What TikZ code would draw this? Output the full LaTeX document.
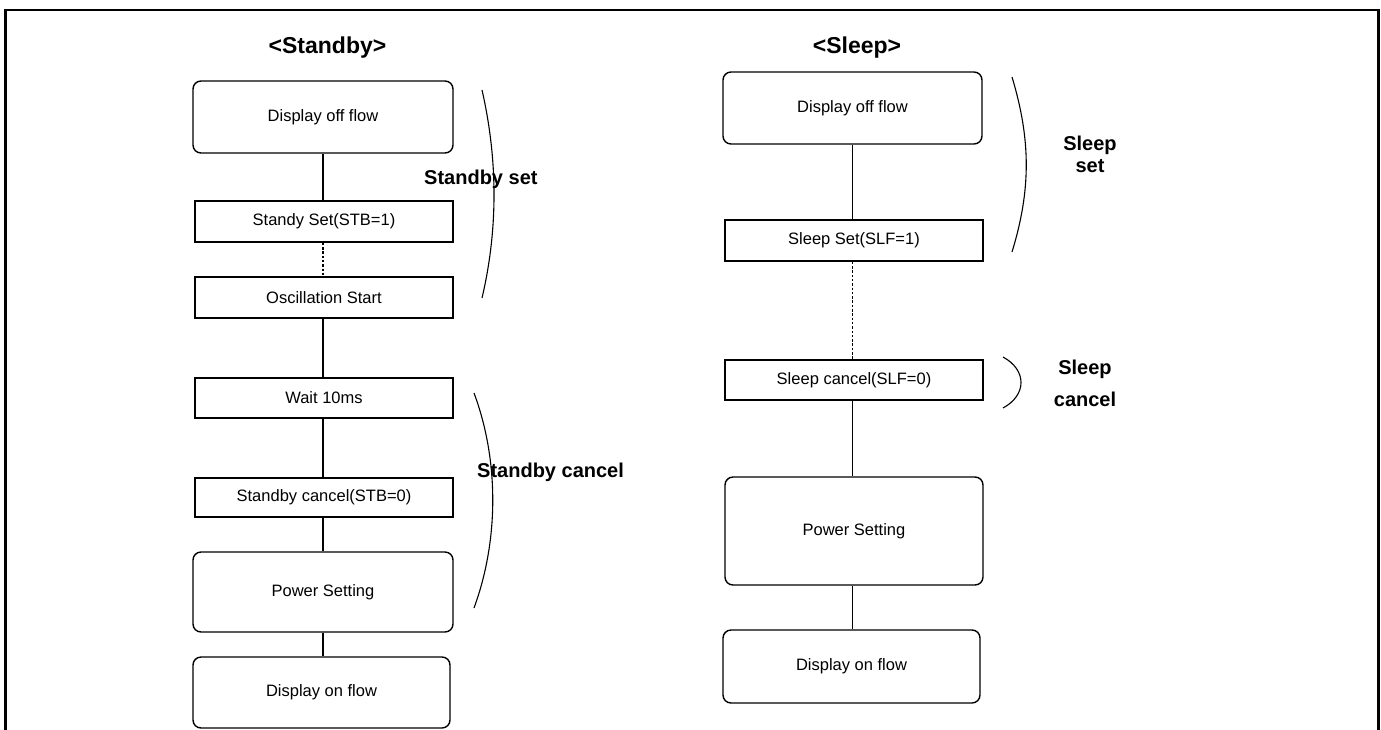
\documentclass[tikz,border=0pt]{standalone}
\usepackage{fontspec}
\setmainfont{Liberation Sans}
\begin{document}
\begin{tikzpicture}[x=1pt,y=-1pt,
  box/.style={draw, line width=1.4pt, minimum width=258pt, inner sep=0pt, font=\fontsize{16.5}{19}\selectfont},
  rbox/.style={box, rounded corners=8pt},
  link/.style={line width=1.9pt},
  dotlink/.style={line width=1.9pt, dash pattern=on 2.5pt off 1.8pt},
  brace/.style={line width=1.1pt},
  lbl/.style={font=\fontsize{20}{22}\selectfont\bfseries, inner sep=0pt},
  ttl/.style={font=\fontsize{23}{26}\selectfont\bfseries, inner sep=0pt, anchor=base}]
\useasboundingbox (0,0) rectangle (1381,729);
% frame
\draw[line width=2.7pt] (5.3,735) -- (5.3,10) -- (1378.7,10) -- (1378.7,735);
% titles
\node[ttl] (T1) at (327.5,53) {<Standby>};
\node[ttl] (T2) at (857,53) {<Sleep>};
% left column
\node[rbox, minimum width=260pt, minimum height=72pt] (L1) at (323,117) {Display off flow};
\node[box, minimum height=41pt] (L2) at (324,221.5) {Standy Set(STB=1)};
\node[box, minimum height=41pt] (L3) at (324,297.5) {Oscillation Start};
\node[box, minimum height=40pt] (L4) at (324,398) {Wait 10ms};
\node[box, minimum height=39pt] (L5) at (324,497.5) {Standby cancel(STB=0)};
\node[rbox, minimum width=260pt, minimum height=80pt] (L6) at (323,592) {Power Setting};
\node[rbox, minimum width=257pt, minimum height=71pt] (L7) at (321.5,692.5) {Display on flow};
\draw[link] (L1.south) -- (L1.south |- L2.north);
\draw[dotlink] (L1.south |- L2.south) -- (L1.south |- L3.north);
\draw[link] (L1.south |- L3.south) -- (L1.south |- L4.north);
\draw[link] (L1.south |- L4.south) -- (L1.south |- L5.north);
\draw[link] (L1.south |- L5.south) -- (L1.south |- L6.north);
\draw[link] (L6.south) -- (L6.south |- L7.north);
% right column
\node[rbox, minimum width=259pt, minimum height=72pt] (R1) at (852.5,108) {Display off flow};
\node[box, minimum height=41pt] (R2) at (854,240.5) {Sleep Set(SLF=1)};
\node[box, minimum height=40pt] (R3) at (854,380) {Sleep cancel(SLF=0)};
\node[rbox, minimum height=108pt] (R4) at (854,531) {Power Setting};
\node[rbox, minimum width=257pt, minimum height=73pt] (R5) at (851.5,666.5) {Display on flow};
\draw[link] (R1.south) -- (R1.south |- R2.north);
\draw[dotlink] (R1.south |- R2.south) -- (R1.south |- R3.north);
\draw[link] (R1.south |- R3.south) -- (R1.south |- R4.north);
\draw[link] (R1.south |- R4.south) -- (R1.south |- R5.north);
% braces
\draw[brace] (482,90) .. controls (498,160) and (498,230) .. (482,298);
\draw[brace] (474,393) .. controls (499,460) and (499,540) .. (474,608);
\draw[brace] (1012,77) .. controls (1031,140) and (1031,190) .. (1012,252);
\draw[brace] (1003,357) .. controls (1027,370) and (1027,395) .. (1003,408);
% labels
\node[lbl, anchor=base west] (S1) at (424,184) {Standby set};
\node[lbl, anchor=base west] (S2) at (477,477) {Standby cancel};
\node[lbl, align=center] (S3) at (1090,154) {Sleep\\set};
\node[lbl, align=center, font=\fontsize{20}{31.5}\selectfont\bfseries] (S4) at (1085,383.5) {Sleep\\cancel};
\end{tikzpicture}
\end{document}
